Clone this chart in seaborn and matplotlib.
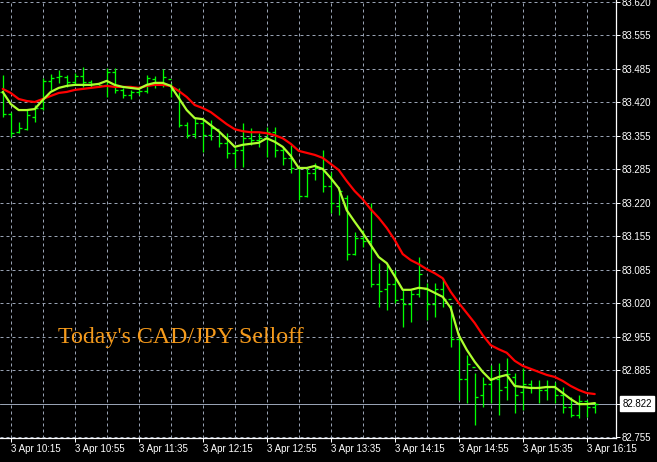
import numpy as np
import matplotlib
matplotlib.use('Agg')
import matplotlib.pyplot as plt
import seaborn as sns

# ============================================================================
# DATA  (CAD/JPY, M5 bars, 3 Apr 10:10 -> 16:20)
# ============================================================================
opens = [83.440, 83.398, 83.362, 83.368, 83.392, 83.410, 83.462, 83.470, 83.470, 83.460,
         83.472, 83.460, 83.456, 83.455, 83.480, 83.445, 83.435, 83.440, 83.442, 83.466,
         83.456, 83.466, 83.445, 83.375, 83.358, 83.380, 83.355, 83.368, 83.340, 83.320,
         83.325, 83.350, 83.345, 83.350, 83.362, 83.325, 83.310, 83.290, 83.235, 83.280,
         83.290, 83.255, 83.215, 83.230, 83.120, 83.150, 83.145, 83.060, 83.050, 83.060,
         83.030, 83.020, 83.040, 83.050, 83.020, 83.050, 83.030, 82.950, 82.870, 82.895,
         82.840, 82.860, 82.870, 82.855, 82.875, 82.845, 82.860, 82.855, 82.850, 82.855,
         82.840, 82.815, 82.800, 82.828, 82.815]
highs = [83.475, 83.401, 83.381, 83.405, 83.415, 83.469, 83.477, 83.485, 83.475, 83.479,
         83.490, 83.465, 83.459, 83.489, 83.489, 83.449, 83.445, 83.447, 83.475, 83.473,
         83.487, 83.459, 83.449, 83.381, 83.389, 83.389, 83.385, 83.361, 83.359, 83.332,
         83.379, 83.369, 83.359, 83.371, 83.371, 83.332, 83.336, 83.292, 83.292, 83.300,
         83.326, 83.282, 83.252, 83.236, 83.163, 83.167, 83.220, 83.101, 83.097, 83.087,
         83.048, 83.048, 83.113, 83.062, 83.062, 83.071, 83.018, 82.958, 82.919, 82.883,
         82.875, 82.899, 82.903, 82.913, 82.883, 82.893, 82.869, 82.869, 82.869, 82.865,
         82.855, 82.835, 82.839, 82.829, 82.825]
lows = [83.391, 83.351, 83.359, 83.365, 83.381, 83.405, 83.445, 83.459, 83.451, 83.455,
        83.451, 83.451, 83.451, 83.431, 83.439, 83.429, 83.427, 83.435, 83.439, 83.449,
        83.451, 83.431, 83.371, 83.349, 83.349, 83.322, 83.346, 83.332, 83.310, 83.290,
        83.292, 83.336, 83.332, 83.312, 83.312, 83.296, 83.280, 83.226, 83.232, 83.266,
        83.242, 83.201, 83.197, 83.107, 83.117, 83.133, 83.054, 83.014, 83.008, 83.022,
        82.974, 82.984, 83.034, 82.988, 82.994, 83.014, 82.934, 82.829, 82.823, 82.779,
        82.815, 82.823, 82.799, 82.829, 82.803, 82.809, 82.843, 82.823, 82.829, 82.823,
        82.803, 82.795, 82.793, 82.795, 82.803]
closes = [83.398, 83.360, 83.370, 83.395, 83.410, 83.462, 83.468, 83.472, 83.460, 83.472,
          83.460, 83.456, 83.455, 83.480, 83.445, 83.435, 83.440, 83.442, 83.468, 83.456,
          83.470, 83.445, 83.375, 83.356, 83.380, 83.355, 83.370, 83.340, 83.320, 83.325,
          83.350, 83.345, 83.350, 83.362, 83.325, 83.310, 83.290, 83.235, 83.280, 83.290,
          83.255, 83.220, 83.245, 83.120, 83.150, 83.145, 83.060, 83.045, 83.060, 83.028,
          83.020, 83.040, 83.080, 83.020, 83.050, 83.030, 82.950, 82.870, 82.900, 82.835,
          82.860, 82.870, 82.850, 82.880, 82.840, 82.860, 82.855, 82.850, 82.855, 82.840,
          82.815, 82.800, 82.828, 82.815, 82.822]
fast_ma = [83.441, 83.417, 83.405, 83.405, 83.407, 83.425, 83.441, 83.449, 83.453, 83.455,
           83.455, 83.455, 83.457, 83.463, 83.455, 83.451, 83.449, 83.447, 83.455, 83.459,
           83.459, 83.453, 83.429, 83.405, 83.389, 83.387, 83.375, 83.363, 83.348, 83.332,
           83.336, 83.338, 83.340, 83.349, 83.342, 83.332, 83.314, 83.290, 83.290, 83.294,
           83.288, 83.270, 83.250, 83.206, 83.183, 83.161, 83.137, 83.113, 83.101, 83.075,
           83.048, 83.048, 83.052, 83.050, 83.042, 83.034, 83.012, 82.958, 82.929, 82.905,
           82.885, 82.869, 82.875, 82.879, 82.857, 82.855, 82.853, 82.853, 82.855, 82.855,
           82.843, 82.831, 82.821, 82.821, 82.823]
slow_ma = [83.447, 83.439, 83.427, 83.423, 83.421, 83.427, 83.433, 83.439, 83.441, 83.445,
           83.447, 83.449, 83.451, 83.453, 83.451, 83.451, 83.451, 83.449, 83.453, 83.455,
           83.455, 83.453, 83.443, 83.431, 83.415, 83.409, 83.401, 83.389, 83.377, 83.367,
           83.363, 83.361, 83.361, 83.359, 83.355, 83.349, 83.338, 83.324, 83.320, 83.316,
           83.310, 83.298, 83.286, 83.264, 83.244, 83.228, 83.208, 83.191, 83.171, 83.147,
           83.119, 83.107, 83.099, 83.089, 83.081, 83.071, 83.044, 83.022, 83.002, 82.982,
           82.958, 82.938, 82.930, 82.923, 82.907, 82.897, 82.891, 82.885, 82.879, 82.875,
           82.867, 82.857, 82.849, 82.843, 82.841]

x_labels = ['3 Apr 10:15', '3 Apr 10:55', '3 Apr 11:35', '3 Apr 12:15', '3 Apr 12:55',
            '3 Apr 13:35', '3 Apr 14:15', '3 Apr 14:55', '3 Apr 15:35', '3 Apr 16:15']
y_labels = ['82.755', '', '82.885', '82.955', '83.020', '83.085', '83.155',
            '83.220', '83.285', '83.355', '83.420', '83.485', '83.555', '83.620']
title_text = "Today's CAD/JPY Selloff"

# ============================================================================
# STYLE
# ============================================================================
BAR_COLOR = '#00ff00'
FAST_COLOR = '#adff2f'
SLOW_COLOR = '#ff0000'
GRID_COLOR = '#98a2b3'
TEXT_COLOR = '#f59a1b'
PX = 0.72  # one pixel at 100 dpi, in points

sns.set_theme(style='dark', rc={'axes.facecolor': 'black',
                                'figure.facecolor': 'black'})
plt.rcParams['font.family'] = ['Liberation Sans', 'DejaVu Sans']


def main():
    x = np.arange(len(closes))

    fig = plt.figure(figsize=(6.57, 4.62), dpi=100)
    ax = fig.add_axes([0, 24 / 462, 616 / 657, 438 / 462])
    ax.set_facecolor('black')
    ax.set_axisbelow(True)

    # OHLC bars, snapped to the pixel grid like MT4
    bar_kw = dict(color=BAR_COLOR, lw=PX * 1.3, snap=True)
    ax.vlines(x, lows, highs, **bar_kw)
    ax.hlines(opens, x - 0.4, x, **bar_kw)
    ax.hlines(closes, x, x + 0.4, **bar_kw)

    # moving averages
    sns.lineplot(x=x, y=slow_ma, color=SLOW_COLOR, lw=1.6, ax=ax)
    sns.lineplot(x=x, y=fast_ma, color=FAST_COLOR, lw=1.6, ax=ax)

    # current price line
    ax.axhline(closes[-1], color=GRID_COLOR, lw=PX, zorder=1, snap=True)

    ax.set_xlim(-0.34, 76.66)
    ax.set_ylim(82.7537, 83.6236)

    # axes / ticks
    ax.set_xticks(np.arange(1, len(closes), 8))
    ax.set_xticklabels(x_labels, ha='left')
    ax.set_xticks(np.arange(1, len(closes), 4), minor=True)
    ax.yaxis.tick_right()
    ax.set_yticks(np.linspace(82.755, 83.620, len(y_labels)))
    ax.set_yticklabels(y_labels)
    ax.tick_params(axis='both', which='major', colors='white', labelcolor='white',
                   labelsize=7, length=2.9, width=PX, pad=1.5,
                   bottom=True, right=True, left=False)
    ax.tick_params(axis='x', which='minor', length=0)
    ax.grid(True, which='both', color=GRID_COLOR, lw=PX, linestyle=(0, (3, 3)),
            snap=True)
    ax.set_xlabel('')
    ax.set_ylabel('')

    for side in ['left', 'top']:
        ax.spines[side].set_visible(False)
    for side in ['right', 'bottom']:
        ax.spines[side].set_visible(True)
        ax.spines[side].set_color('white')
        ax.spines[side].set_linewidth(0.9)

    # price label
    ax.text(1.0105, closes[-1], f'{closes[-1]:.3f}', transform=ax.get_yaxis_transform(),
            ha='left', va='center', fontsize=7, color='black', clip_on=False, zorder=10,
            bbox=dict(boxstyle='square,pad=0.25', fc='white', ec='white'))

    # caption
    ax.text(58 / 616, 0.217, title_text, transform=ax.transAxes, ha='left',
            va='baseline', fontsize=17.2, color=TEXT_COLOR,
            family=['Liberation Serif', 'DejaVu Serif'])

    fig.savefig('out.png', dpi=100, facecolor='black')
    plt.close(fig)


if __name__ == '__main__':
    main()
